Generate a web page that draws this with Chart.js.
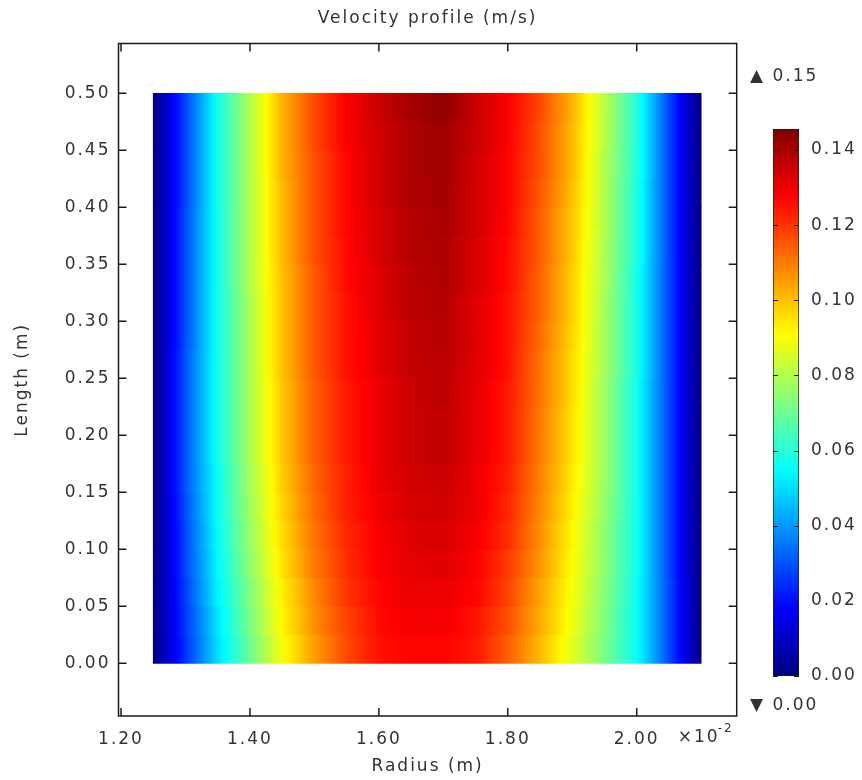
<!DOCTYPE html>
<html>
<head>
<meta charset="utf-8">
<script src="https://cdn.jsdelivr.net/npm/chart.js@4.4.1/dist/chart.umd.min.js"></script>
<style>
  body { margin: 0; background: #fff; }
  #wrap { position: relative; width: 862px; height: 780px; }
  #main { position: absolute; left: 0; top: 0; }
  #cbar { position: absolute; left: 740px; top: 0; }
</style>
</head>
<body>
<div id="wrap">
  <canvas id="main" width="862" height="780"></canvas>
  <canvas id="cbar" width="122" height="780"></canvas>
</div>
<script>
// radius nodes (x10^-2 m) and length rows (m)
const RADIUS = [1.25, 1.30, 1.35, 1.40, 1.45, 1.50, 1.55, 1.60, 1.65, 1.70, 1.75, 1.80, 1.85, 1.90, 1.95, 2.00, 2.05, 2.10];
const LENGTH = [0.0125, 0.0375, 0.0625, 0.0875, 0.1125, 0.1375, 0.1625, 0.1875, 0.2125, 0.2375,
                0.2625, 0.2875, 0.3125, 0.3375, 0.3625, 0.3875, 0.4125, 0.4375, 0.4625, 0.4875];

// velocity (m/s) per length row, one value per radius node
const VELOCITY = [
  [0, 0.025, 0.050, 0.070, 0.090, 0.105, 0.117, 0.125, 0.127, 0.127, 0.124, 0.114, 0.101, 0.087, 0.072, 0.056, 0.029, 0],
  [0, 0.026, 0.051, 0.072, 0.092, 0.107, 0.118, 0.126, 0.129, 0.129, 0.125, 0.116, 0.103, 0.089, 0.073, 0.056, 0.029, 0],
  [0, 0.027, 0.053, 0.073, 0.093, 0.108, 0.120, 0.127, 0.130, 0.130, 0.127, 0.118, 0.104, 0.090, 0.074, 0.056, 0.029, 0],
  [0, 0.028, 0.054, 0.075, 0.095, 0.110, 0.121, 0.128, 0.131, 0.132, 0.128, 0.119, 0.106, 0.091, 0.075, 0.057, 0.028, 0],
  [0, 0.028, 0.055, 0.076, 0.096, 0.111, 0.122, 0.128, 0.132, 0.133, 0.129, 0.121, 0.107, 0.092, 0.075, 0.057, 0.028, 0],
  [0, 0.029, 0.056, 0.077, 0.097, 0.112, 0.123, 0.129, 0.133, 0.134, 0.130, 0.122, 0.108, 0.093, 0.076, 0.057, 0.028, 0],
  [0, 0.030, 0.056, 0.078, 0.098, 0.113, 0.123, 0.130, 0.134, 0.135, 0.130, 0.123, 0.109, 0.094, 0.077, 0.057, 0.028, 0],
  [0, 0.030, 0.057, 0.079, 0.099, 0.114, 0.124, 0.130, 0.135, 0.136, 0.131, 0.124, 0.110, 0.095, 0.077, 0.057, 0.028, 0],
  [0, 0.030, 0.057, 0.079, 0.099, 0.114, 0.124, 0.130, 0.135, 0.136, 0.131, 0.124, 0.110, 0.095, 0.077, 0.057, 0.028, 0],
  [0, 0.030, 0.057, 0.079, 0.099, 0.114, 0.124, 0.130, 0.135, 0.137, 0.131, 0.124, 0.111, 0.096, 0.077, 0.057, 0.028, 0],
  [0, 0.030, 0.057, 0.079, 0.100, 0.115, 0.125, 0.131, 0.136, 0.137, 0.132, 0.125, 0.111, 0.096, 0.078, 0.058, 0.028, 0],
  [0, 0.029, 0.057, 0.079, 0.100, 0.115, 0.125, 0.131, 0.136, 0.138, 0.132, 0.125, 0.112, 0.097, 0.078, 0.058, 0.028, 0],
  [0, 0.029, 0.057, 0.079, 0.100, 0.115, 0.125, 0.132, 0.137, 0.138, 0.132, 0.125, 0.113, 0.098, 0.078, 0.058, 0.028, 0],
  [0, 0.029, 0.057, 0.080, 0.100, 0.115, 0.126, 0.132, 0.137, 0.139, 0.133, 0.126, 0.113, 0.098, 0.079, 0.058, 0.028, 0],
  [0, 0.029, 0.057, 0.080, 0.101, 0.116, 0.126, 0.133, 0.138, 0.139, 0.133, 0.126, 0.114, 0.099, 0.079, 0.059, 0.028, 0],
  [0, 0.029, 0.057, 0.080, 0.101, 0.116, 0.127, 0.133, 0.138, 0.140, 0.134, 0.127, 0.114, 0.099, 0.080, 0.059, 0.028, 0],
  [0, 0.028, 0.057, 0.080, 0.101, 0.116, 0.127, 0.134, 0.139, 0.140, 0.134, 0.127, 0.115, 0.100, 0.080, 0.059, 0.028, 0],
  [0, 0.028, 0.057, 0.080, 0.102, 0.116, 0.127, 0.134, 0.139, 0.141, 0.134, 0.127, 0.116, 0.101, 0.080, 0.060, 0.028, 0],
  [0, 0.028, 0.057, 0.080, 0.102, 0.117, 0.128, 0.134, 0.139, 0.141, 0.135, 0.128, 0.116, 0.101, 0.081, 0.060, 0.028, 0],
  [0, 0.028, 0.057, 0.080, 0.102, 0.117, 0.128, 0.135, 0.140, 0.143, 0.135, 0.128, 0.117, 0.102, 0.081, 0.060, 0.028, 0]
];

const V_MIN = 0;
const V_MAX = 0.1456;

const X_TICKS = [1.2, 1.4, 1.6, 1.8, 2.0];
const Y_TICKS = [0, 0.05, 0.1, 0.15, 0.2, 0.25, 0.3, 0.35, 0.4, 0.45, 0.5];
const CBAR_TICKS = [0, 0.02, 0.04, 0.06, 0.08, 0.1, 0.12, 0.14];

const TITLE = 'Velocity profile (m/s)';
const FONT = { family: 'DejaVu Sans', size: 17, weight: 'normal' };
const TEXT = '#333';
const INK = '#1a1a1a';

function clamp(v) { return Math.max(0, Math.min(1, v)); }

// jet colour map
function jet(t) {
  t = clamp(t);
  const r = clamp(Math.min(4 * t - 1.5, -4 * t + 4.5));
  const g = clamp(Math.min(4 * t - 0.5, -4 * t + 3.5));
  const b = clamp(Math.min(4 * t + 0.5, -4 * t + 2.5));
  return `rgb(${Math.round(r * 255)},${Math.round(g * 255)},${Math.round(b * 255)})`;
}

function rowGradient(ctx) {
  const chart = ctx.chart;
  if (!chart.chartArea) return null;
  const row = VELOCITY[ctx.dataIndex];
  const xs = chart.scales.x;
  const x0 = xs.getPixelForValue(RADIUS[0]);
  const x1 = xs.getPixelForValue(RADIUS[RADIUS.length - 1]);
  const g = chart.ctx.createLinearGradient(x0, 0, x1, 0);
  const steps = 6;
  for (let j = 0; j < RADIUS.length - 1; j++) {
    for (let s = 0; s < steps; s++) {
      const f = s / steps;
      const r = RADIUS[j] + (RADIUS[j + 1] - RADIUS[j]) * f;
      const v = row[j] + (row[j + 1] - row[j]) * f;
      g.addColorStop((xs.getPixelForValue(r) - x0) / (x1 - x0), jet(v / V_MAX));
    }
  }
  g.addColorStop(1, jet(row[row.length - 1] / V_MAX));
  return g;
}

function barGradient(ctx) {
  const chart = ctx.chart;
  if (!chart.chartArea) return null;
  const ys = chart.scales.y;
  const g = chart.ctx.createLinearGradient(0, ys.getPixelForValue(V_MIN), 0, ys.getPixelForValue(V_MAX));
  for (let i = 0; i <= 16; i++) g.addColorStop(i / 16, jet(i / 16));
  return g;
}

const spacing = {
  id: 'spacing',
  beforeDraw(chart) { chart.ctx.letterSpacing = '2px'; }
};

// boxed frame with inward ticks on all four sides, plus title and exponent
const frame = {
  id: 'frame',
  afterDraw(chart) {
    const { ctx, chartArea: a, scales: { x, y } } = chart;
    ctx.save();
    ctx.strokeStyle = INK;
    ctx.lineWidth = 1.5;
    ctx.strokeRect(a.left, a.top, a.right - a.left, a.bottom - a.top);
    ctx.beginPath();
    X_TICKS.forEach(v => {
      const px = x.getPixelForValue(v);
      ctx.moveTo(px, a.bottom); ctx.lineTo(px, a.bottom - 8);
      ctx.moveTo(px, a.top); ctx.lineTo(px, a.top + 8);
    });
    Y_TICKS.forEach(v => {
      const py = y.getPixelForValue(v);
      ctx.moveTo(a.left, py); ctx.lineTo(a.left + 8, py);
      ctx.moveTo(a.right, py); ctx.lineTo(a.right - 8, py);
    });
    ctx.stroke();

    ctx.fillStyle = TEXT;
    ctx.textBaseline = 'middle';
    ctx.font = '17px "DejaVu Sans"';
    ctx.textAlign = 'center';
    ctx.fillText(TITLE, (a.left + a.right) / 2, a.top - 25);
    ctx.textAlign = 'left';
    ctx.fillText('\u00d710', a.right - 59, a.bottom + 22);
    ctx.font = '12px "DejaVu Sans"';
    ctx.fillText('-2', a.right - 19, a.bottom + 13);
    ctx.restore();
  }
};

new Chart(document.getElementById('main'), {
  type: 'bar',
  data: {
    datasets: [{
      data: LENGTH.map(l => ({ y: l, x: [RADIUS[0], RADIUS[RADIUS.length - 1]] })),
      backgroundColor: rowGradient,
      borderWidth: 0,
      barPercentage: 1,
      categoryPercentage: 1
    }]
  },
  options: {
    indexAxis: 'y',
    responsive: false,
    animation: false,
    layout: { padding: { left: 0, right: 125.3, top: 43.5, bottom: 0 } },
    plugins: {
      legend: { display: false },
      tooltip: { enabled: false },
      title: { display: false }
    },
    scales: {
      x: {
        type: 'linear',
        min: 1.1961,
        max: 2.1551,
        afterBuildTicks: s => { s.ticks = X_TICKS.map(v => ({ value: v })); },
        afterFit: s => { s.height = 64; },
        grid: { display: false, drawTicks: false },
        border: { display: false },
        ticks: { color: TEXT, font: FONT, padding: 13, maxRotation: 0, autoSkip: false, callback: v => v.toFixed(2) },
        title: { display: true, text: 'Radius (m)', color: TEXT, font: FONT, padding: { top: 0, bottom: 3 } }
      },
      y: {
        type: 'linear',
        offset: false,
        min: -0.0462,
        max: 0.5437,
        afterBuildTicks: s => { s.ticks = Y_TICKS.map(v => ({ value: v })); },
        afterFit: s => { s.width = 118.5; },
        grid: { display: false, drawTicks: false },
        border: { display: false },
        ticks: { color: TEXT, font: FONT, padding: 8, autoSkip: false, callback: v => v.toFixed(2) },
        title: { display: true, text: 'Length (m)', color: TEXT, font: FONT, padding: { top: 12, bottom: 0 } }
      }
    }
  },
  plugins: [spacing, frame]
});

// colour legend
const cbarMarks = {
  id: 'cbarMarks',
  afterDraw(chart) {
    const { ctx, chartArea: a, scales: { y } } = chart;
    ctx.save();
    ctx.strokeStyle = INK;
    ctx.lineWidth = 1;
    ctx.beginPath();
    CBAR_TICKS.forEach(v => {
      const py = Math.round(y.getPixelForValue(v)) + 0.5;
      ctx.moveTo(a.left, py); ctx.lineTo(a.left + 5, py);
      ctx.moveTo(a.right, py); ctx.lineTo(a.right - 5, py);
    });
    ctx.stroke();
    ctx.fillStyle = TEXT;
    ctx.textAlign = 'left';
    ctx.textBaseline = 'middle';
    ctx.font = '17px "DejaVu Sans"';
    ctx.fillText('\u25b2 ' + V_MAX.toFixed(2), a.left - 23, a.top - 52);
    ctx.fillText('\u25bc ' + V_MIN.toFixed(2), a.left - 23, a.bottom + 30);
    ctx.restore();
  }
};

new Chart(document.getElementById('cbar'), {
  type: 'bar',
  data: {
    labels: [''],
    datasets: [{
      data: [[V_MIN, V_MAX]],
      backgroundColor: barGradient,
      borderColor: INK,
      borderWidth: 1,
      borderSkipped: false,
      barPercentage: 1,
      categoryPercentage: 1
    }]
  },
  options: {
    responsive: false,
    animation: false,
    layout: { padding: { left: 33, top: 129, bottom: 104, right: 0 } },
    plugins: { legend: { display: false }, tooltip: { enabled: false } },
    scales: {
      x: { display: false },
      y: {
        position: 'right',
        min: V_MIN,
        max: V_MAX,
        afterBuildTicks: s => { s.ticks = CBAR_TICKS.map(v => ({ value: v })); },
        afterFit: s => { s.width = 63; },
        grid: { display: false, drawTicks: false },
        border: { display: false },
        ticks: { color: TEXT, font: FONT, padding: 12, autoSkip: false, callback: v => v.toFixed(2) }
      }
    }
  },
  plugins: [spacing, cbarMarks]
});
</script>
</body>
</html>
